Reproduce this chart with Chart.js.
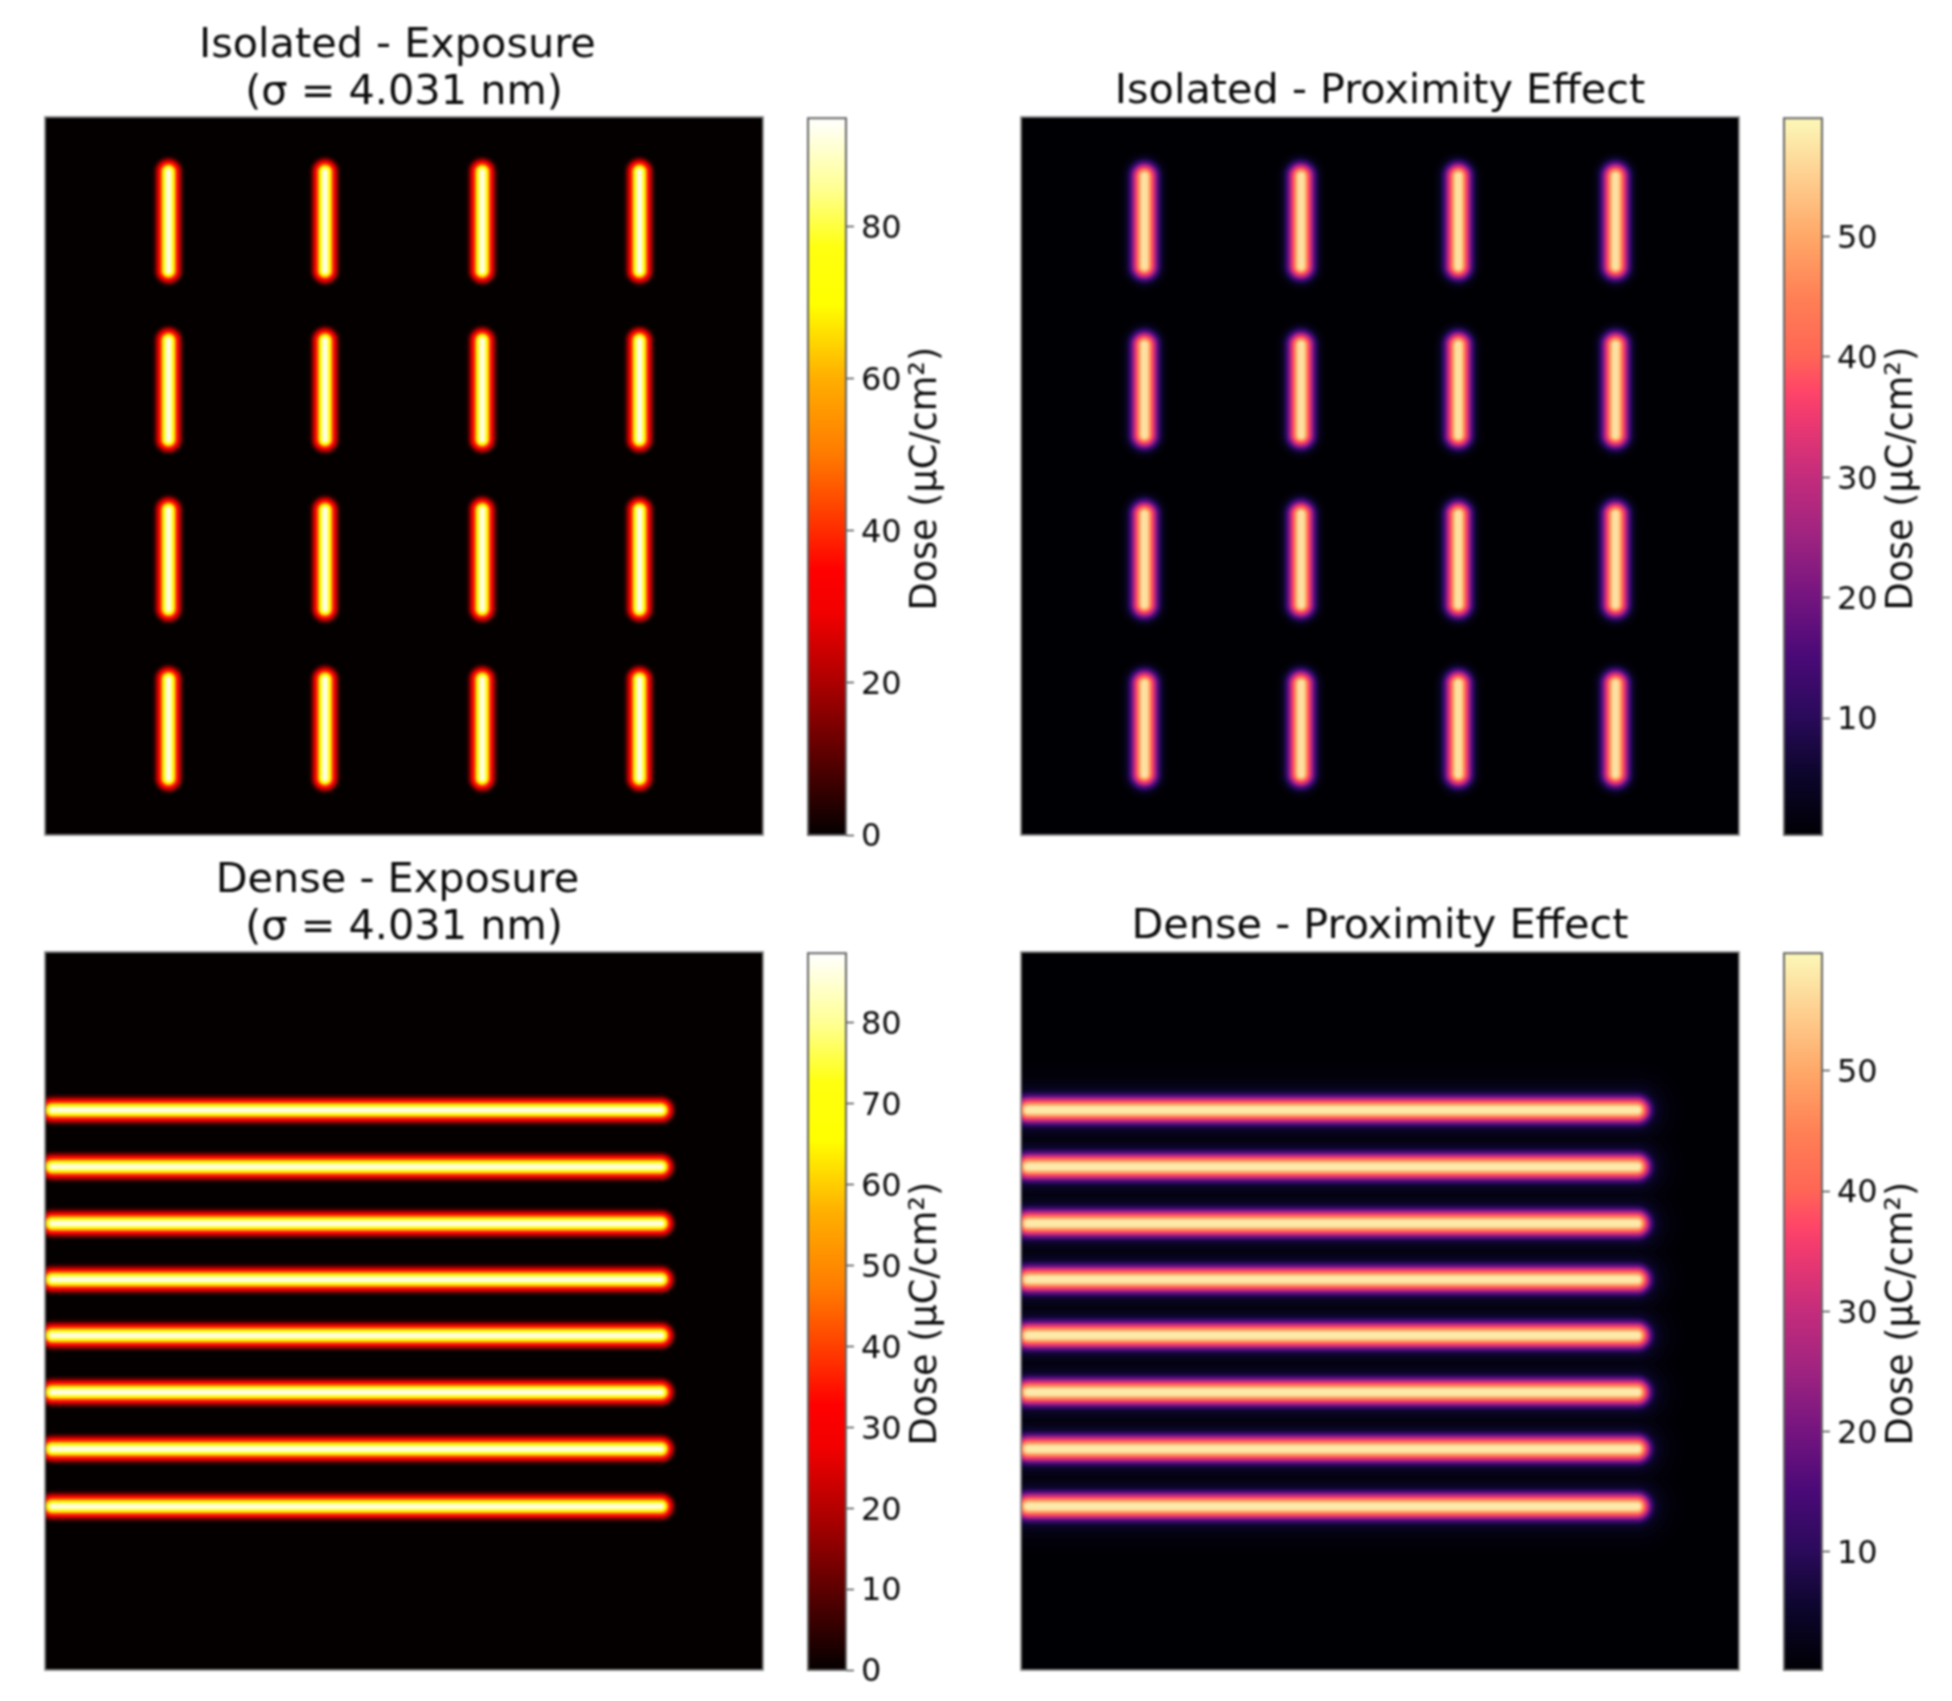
<!DOCTYPE html>
<html>
<head>
<meta charset="utf-8">
<title>Dose maps</title>
<script src="https://cdn.jsdelivr.net/npm/chart.js@4"></script>
<style>
html, body { margin: 0; background: #fff; }
#wrap { position: relative; width: 1952px; height: 1701px; overflow: hidden; filter: blur(0.9px); }
canvas { position: absolute; }
</style>
</head>
<body>
<div id="wrap"></div>
<script>
// line layout, in percent of the panel (x from left, y from top)
var isoColumns = [17.2, 39.0, 60.9, 82.8];
var isoExpRowStart = [7.6, 31.1, 54.7, 78.3];
var isoExpRowEnd = [21.4, 44.9, 68.5, 92.1];
var isoProxRowStart = [8.2, 31.7, 55.3, 78.9];
var isoProxRowEnd = [20.8, 44.3, 67.9, 91.5];
var denseRows = [22.0, 29.9, 37.8, 45.6, 53.4, 61.3, 69.2, 77.2];
var denseExpStart = 1.0;
var denseExpEnd = 85.8;
var denseProxStart = 1.0;
var denseProxEnd = 85.8;

// dose across a line: half width (percent of panel) -> dose
var isoExpWidth = [2.4, 2.2, 2.03, 1.85, 1.68, 1.5, 1.3, 1.05, 0.85, 0.6, 0.4, 0.18];
var isoExpDose = [0.5, 3, 7, 13, 20, 28, 38, 52, 68, 80, 88, 93];
var denseExpWidth = [2.4, 2.2, 2.03, 1.85, 1.68, 1.5, 1.3, 1.05, 0.85, 0.6, 0.4, 0.18];
var denseExpDose = [0.5, 3, 7, 12, 19, 27, 36, 49, 63, 75, 83, 87];
var isoProxWidth = [3.4, 3.1, 2.8, 2.55, 2.3, 2.05, 1.8, 1.52, 1.25, 0.98, 0.72, 0.45];
var isoProxDose = [1, 2, 3.5, 6, 10, 15, 22, 30, 37, 45, 52, 57];
var denseProxWidth = [6.5, 5.5, 4.5, 3.8, 3.3, 2.9, 2.6, 2.35, 2.1, 1.85, 1.58, 1.3, 1.03, 0.76, 0.47];
var denseProxDose = [0.5, 0.9, 1.6, 2.4, 3.5, 5, 7, 11, 16, 23, 31, 38, 46, 53, 58];

// colour bars
var isoExpTicks = [0, 20, 40, 60, 80];
var denseExpTicks = [0, 10, 20, 30, 40, 50, 60, 70, 80];
var proxTicks = [10, 20, 30, 40, 50];

// colour maps, sampled from the colour bars in the picture
var hotStops = [0, 0.21, 0.31, 0.37, 0.43, 0.53, 0.64, 0.74, 0.82, 0.9, 1];
var hotColors = ['#040000', '#aa0000', '#f20000', '#ff0000', '#ff3000', '#ff7a00', '#ffb000', '#ffff00', '#ffff10', '#ffff90', '#ffffff'];
var magmaStops = [0, 0.085, 0.165, 0.25, 0.335, 0.42, 0.5, 0.585, 0.62, 0.67, 0.75, 0.835, 0.92, 1];
var magmaColors = ['#000004', '#0c062c', '#2a0a5a', '#4a0a78', '#761580', '#a02480', '#c42c7c', '#f03a70', '#ff4568', '#ff6655', '#ff8055', '#ffa868', '#fed090', '#fcf8b8'];

var hot = { stops: hotStops, colors: hotColors };
var magma = { stops: magmaStops, colors: magmaColors };

var fontName = '"DejaVu Sans"';
var textColor = '#0c0c0c';
var panelW = 718;
var panelH = 718;

function hexPart(hex, i) {
    return parseInt(hex.substr(1 + i * 2, 2), 16);
}

function doseColor(cmap, t) {
    t = Math.max(0, Math.min(1, t));
    var i = 0;
    while (i < cmap.stops.length - 2 && t > cmap.stops[i + 1]) i++;
    var f = (t - cmap.stops[i]) / (cmap.stops[i + 1] - cmap.stops[i]);
    var rgb = [0, 1, 2].map(function (k) {
        var a = hexPart(cmap.colors[i], k);
        var b = hexPart(cmap.colors[i + 1], k);
        return Math.round(a + (b - a) * f);
    });
    return 'rgb(' + rgb.join(',') + ')';
}

function isoSegments(rowStart, rowEnd) {
    var pts = [];
    isoColumns.forEach(function (x) {
        rowStart.forEach(function (y0, r) {
            pts.push({ x: x, y: y0 }, { x: x, y: rowEnd[r] }, { x: null, y: null });
        });
    });
    return pts;
}

function denseSegments(start, end) {
    var pts = [];
    denseRows.forEach(function (y) {
        pts.push({ x: start, y: y }, { x: end, y: y }, { x: null, y: null });
    });
    return pts;
}

var framePlugin = {
    id: 'frame',
    beforeDatasetsDraw: function (chart, args, opts) {
        if (!opts.fill) return;
        var a = chart.chartArea;
        chart.ctx.fillStyle = opts.fill;
        chart.ctx.fillRect(a.left, a.top, a.width, a.height);
    },
    afterDatasetsDraw: function (chart, args, opts) {
        var a = chart.chartArea, c = chart.ctx;
        c.save();
        c.strokeStyle = opts.color;
        c.lineWidth = opts.width;
        c.strokeRect(a.left, a.top, a.width, a.height);
        c.restore();
    }
};

var doseLabelPlugin = {
    id: 'doseLabel',
    afterDraw: function (chart, args, opts) {
        var c = chart.ctx, a = chart.chartArea;
        c.save();
        c.translate(a.left + opts.offset, (a.top + a.bottom) / 2 + 2);
        c.rotate(-Math.PI / 2);
        c.font = '36.6px ' + fontName;
        c.fillStyle = textColor;
        c.textAlign = 'center';
        c.textBaseline = 'middle';
        c.fillText(opts.text, 0, 0);
        c.restore();
    }
};

function addCanvas(left, top, w, h) {
    var cv = document.createElement('canvas');
    cv.width = w;
    cv.height = h;
    cv.style.left = left + 'px';
    cv.style.top = top + 'px';
    document.getElementById('wrap').appendChild(cv);
    return cv;
}

function heatPanel(left, top, title, segments, widths, doses, cmap, min, max) {
    var pad = title.length == 1 ? 1 : 0;
    var titleH = title.length * 47 + pad;
    var cv = addCanvas(left - 1, top - titleH, panelW + 2, panelH + titleH + 1);
    // chart.js paints the first dataset last, so highest dose goes first
    var datasets = doses.map(function (d, i) {
        return {
            data: segments,
            showLine: true,
            pointRadius: 0,
            clip: 0,
            borderCapStyle: 'round',
            borderColor: doseColor(cmap, (d - min) / (max - min)),
            borderWidth: function (ctx) {
                var x = ctx.chart.scales.x;
                return 2 * (x.getPixelForValue(widths[i]) - x.getPixelForValue(0));
            }
        };
    }).reverse();
    new Chart(cv, {
        type: 'scatter',
        data: { datasets: datasets },
        plugins: [framePlugin],
        options: {
            responsive: false,
            animation: false,
            layout: { padding: { left: 1, right: 1, bottom: 1 } },
            scales: {
                x: { type: 'linear', min: 0, max: 100, display: false },
                y: { type: 'linear', min: 0, max: 100, reverse: true, display: false }
            },
            plugins: {
                legend: { display: false },
                tooltip: { enabled: false },
                frame: { fill: doseColor(cmap, 0), color: '#888', width: 1.8 },
                title: {
                    display: true,
                    text: title,
                    color: textColor,
                    align: 'center',
                    padding: { top: 0, bottom: pad },
                    font: { family: fontName, size: 41.4, weight: 'normal', lineHeight: '47px' }
                }
            }
        }
    });
}

function colorBar(left, top, cmap, min, max, tickValues) {
    var w = 38, pTop = 25, pBottom = 30, canvasW = 170;
    var cv = addCanvas(left - 1, top - pTop, canvasW, panelH + pTop + pBottom);
    new Chart(cv, {
        type: 'bar',
        data: {
            labels: ['Dose'],
            datasets: [{
                data: [[min, max]],
                barPercentage: 1,
                categoryPercentage: 1,
                backgroundColor: function (ctx) {
                    if (!ctx.chart.chartArea) return cmap.colors[0];
                    var y = ctx.chart.scales.y;
                    var g = ctx.chart.ctx.createLinearGradient(0, y.getPixelForValue(min), 0, y.getPixelForValue(max));
                    cmap.stops.forEach(function (s, i) { g.addColorStop(s, cmap.colors[i]); });
                    return g;
                }
            }]
        },
        plugins: [framePlugin, doseLabelPlugin],
        options: {
            responsive: false,
            animation: false,
            layout: { padding: { left: 1, top: pTop, bottom: pBottom } },
            scales: {
                x: { display: false },
                y: {
                    type: 'linear',
                    position: 'right',
                    min: min,
                    max: max,
                    afterFit: function (s) { s.width = canvasW - 1 - w; },
                    afterBuildTicks: function (s) {
                        s.ticks = tickValues.map(function (v) { return { value: v }; });
                    },
                    grid: { drawOnChartArea: false, tickLength: 8, tickWidth: 1.4, color: '#444' },
                    border: { display: false },
                    ticks: {
                        color: textColor,
                        padding: 7,
                        labelOffset: 3,
                        autoSkip: false,
                        maxRotation: 0,
                        font: { family: fontName, size: 32 }
                    }
                }
            },
            plugins: {
                legend: { display: false },
                tooltip: { enabled: false },
                frame: { color: '#666', width: 2 },
                doseLabel: { text: 'Dose (µC/cm²)', offset: 118 }
            }
        }
    });
}

heatPanel(45, 117, ['Isolated - Exposure ', '(σ = 4.031 nm)'], isoSegments(isoExpRowStart, isoExpRowEnd), isoExpWidth, isoExpDose, hot, 0, 94.3);
colorBar(808, 117, hot, 0, 94.3, isoExpTicks);
heatPanel(1021, 117, ['Isolated - Proximity Effect'], isoSegments(isoProxRowStart, isoProxRowEnd), isoProxWidth, isoProxDose, magma, 0.3, 59.8);
colorBar(1784, 117, magma, 0.3, 59.8, proxTicks);
heatPanel(45, 952, ['Dense - Exposure ', '(σ = 4.031 nm)'], denseSegments(denseExpStart, denseExpEnd), denseExpWidth, denseExpDose, hot, 0, 88.6);
colorBar(808, 952, hot, 0, 88.6, denseExpTicks);
heatPanel(1021, 952, ['Dense - Proximity Effect'], denseSegments(denseProxStart, denseProxEnd), denseProxWidth, denseProxDose, magma, 0.15, 59.8);
colorBar(1784, 952, magma, 0.15, 59.8, proxTicks);
</script>
</body>
</html>
